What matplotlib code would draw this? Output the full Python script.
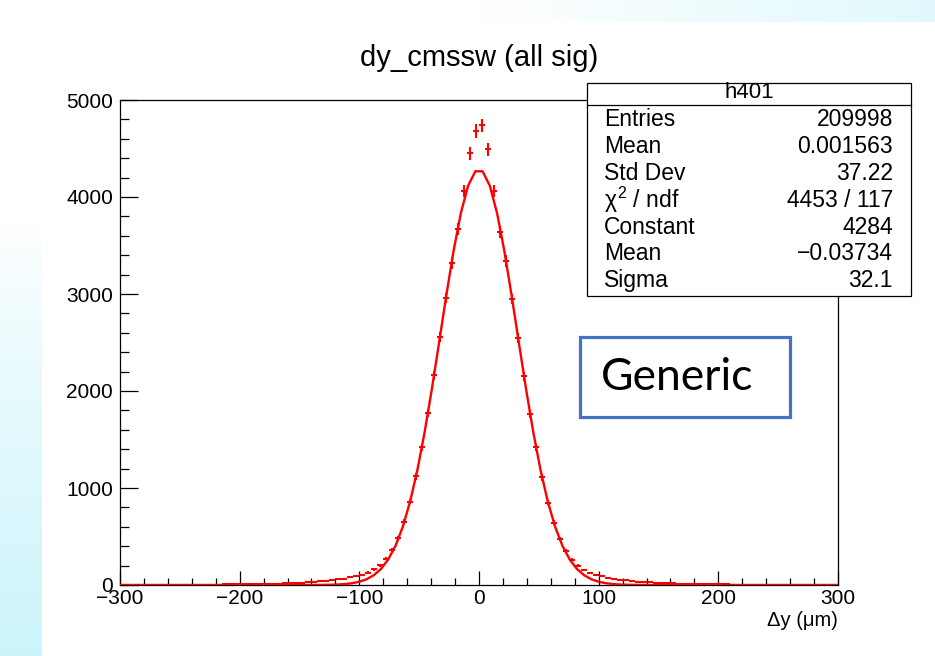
import numpy as np
import matplotlib
matplotlib.use("Agg")
import matplotlib.pyplot as plt
from matplotlib.patches import Rectangle
from matplotlib.lines import Line2D
from matplotlib.ticker import MultipleLocator

plt.rcParams['font.family'] = ['Liberation Sans', 'DejaVu Sans']
plt.rcParams['mathtext.fontset'] = 'custom'
plt.rcParams['mathtext.rm'] = 'Liberation Sans'
plt.rcParams['mathtext.it'] = 'Liberation Sans'

# histogram h401: 120 bins of 5 um between -300 and 300
bin_lo, bin_hi, bin_w = -300, 300, 5
counts_left = [1, 1, 1, 2, 1, 2, 2, 2, 2, 3,
               3, 3, 3, 4, 4, 5, 5, 6, 6, 7,
               8, 9, 10, 11, 12, 14, 15, 17, 19, 22,
               25, 28, 32, 37, 43, 50, 58, 67, 78, 90,
               105, 128, 160, 205, 270, 360, 480, 650, 860, 1120,
               1420, 1770, 2160, 2560, 2960, 3320, 3670, 4060, 4450, 4680]
counts_right = [4740, 4490, 4065, 3640, 3340, 2950, 2550, 2150, 1760, 1420,
                1110, 850, 640, 475, 350, 260, 200, 155, 125, 102,
                88, 76, 65, 56, 49, 42, 36, 31, 27, 24,
                21, 18, 16, 14, 13, 11, 10, 9, 8, 7,
                7, 6, 5, 5, 4, 4, 3, 3, 3, 3,
                2, 2, 2, 2, 2, 1, 1, 1, 1, 1]
counts = np.array(counts_left + counts_right, dtype=float)
centers = np.arange(bin_lo + bin_w / 2, bin_hi, bin_w)

# gaussian fit result
fit_const = 4284
fit_mean = -0.03734
fit_sigma = 32.1

stat_labels = ['Entries', 'Mean', 'Std Dev', r'$\chi^{2}$ / ndf', 'Constant', 'Mean', 'Sigma']
stat_values = ['209998', '0.001563', '37.22', '4453 / 117', '4284', '\u22120.03734', '32.1']

W, H = 935, 656
fig = plt.figure(figsize=(W / 100, H / 100), dpi=100)


def fx(x):
    return x / W


def fy(y):
    return 1 - y / H


# light slide background strips
bg = fig.add_axes([0, 0, 1, 1], zorder=-5)
bg.set_xlim(0, W)
bg.set_ylim(H, 0)
bg.axis('off')
grad_v = np.linspace(0, 1, 200)[:, None, None]
white = np.array([1.0, 1.0, 1.0])
cyan = np.array([0.80, 0.96, 0.985])
left_strip = white + (cyan - white) * grad_v ** 0.8
bg.imshow(np.repeat(left_strip, 2, axis=1), extent=(0, 42, H, 225), aspect='auto')
grad_h = np.linspace(0, 1, 200)[None, :, None]
top_strip = white + (np.array([0.88, 0.975, 0.99]) - white) * grad_h
bg.imshow(np.repeat(top_strip, 2, axis=0), extent=(480, W, 22, 0), aspect='auto')

ax = fig.add_axes([fx(120), fy(585), fx(838) - fx(120), fy(100) - fy(585)])
ax.set_facecolor('white')

# data points with bin-width and sqrt(N) error bars
ax.errorbar(centers, counts, xerr=bin_w / 2, yerr=np.sqrt(counts), fmt='none',
            ecolor='red', elinewidth=1.5, capsize=0, zorder=3)

# fitted gaussian
xf = np.linspace(bin_lo, bin_hi, 100)
yf = fit_const * np.exp(-0.5 * ((xf - fit_mean) / fit_sigma) ** 2)
ax.plot(xf, yf, color='red', lw=1.7, zorder=4)

ax.set_xlim(bin_lo, bin_hi)
ax.set_ylim(0, 5000)
ax.xaxis.set_major_locator(MultipleLocator(100))
ax.xaxis.set_minor_locator(MultipleLocator(20))
ax.yaxis.set_major_locator(MultipleLocator(1000))
ax.yaxis.set_minor_locator(MultipleLocator(200))
ax.tick_params(axis='x', which='major', direction='in', length=10, width=0.9,
               labelsize=15, pad=3)
ax.tick_params(axis='x', which='minor', direction='in', length=5, width=0.9)
ax.tick_params(axis='y', which='major', direction='in', length=13, width=0.9,
               labelsize=15, pad=5)
ax.tick_params(axis='y', which='minor', direction='in', length=6.5, width=0.9)
for s in ax.spines.values():
    s.set_linewidth(0.9)

fig.text(fx(838), fy(620), 'Δy (μm)', ha='right', va='center', fontsize=14.5)
fig.text(fx(479), fy(58), 'dy_cmssw (all sig)', ha='center', va='center', fontsize=21)

# stats box
box_l, box_r, box_t, box_b = 587, 911, 83, 296
fig.patches.append(Rectangle((fx(box_l), fy(box_b)), fx(box_r) - fx(box_l), fy(box_t) - fy(box_b),
                             transform=fig.transFigure, facecolor='white', edgecolor='black',
                             lw=0.9, zorder=10))
fig.lines.append(Line2D([fx(box_l), fx(box_r)], [fy(105), fy(105)], transform=fig.transFigure,
                        color='black', lw=0.9, zorder=11))
fig.text(fx((box_l + box_r) / 2), fy(93), 'h401', ha='center', va='center', fontsize=16, zorder=12)
for i, (lab, val) in enumerate(zip(stat_labels, stat_values)):
    yy = 120 + 26.8 * i
    fig.text(fx(604), fy(yy), lab, ha='left', va='center', fontsize=16.5, zorder=12)
    fig.text(fx(893), fy(yy), val, ha='right', va='center', fontsize=16.5, zorder=12)

# label box
fig.patches.append(Rectangle((fx(580), fy(417)), fx(790) - fx(580), fy(337) - fy(417),
                             transform=fig.transFigure, facecolor='white', edgecolor='#4472C4',
                             lw=2.3, zorder=10))
fig.text(fx(601), fy(378), 'Generic', ha='left', va='center', fontsize=32,
         family=['Lato', 'DejaVu Sans'], zorder=12)

fig.savefig('out.png', dpi=100)
